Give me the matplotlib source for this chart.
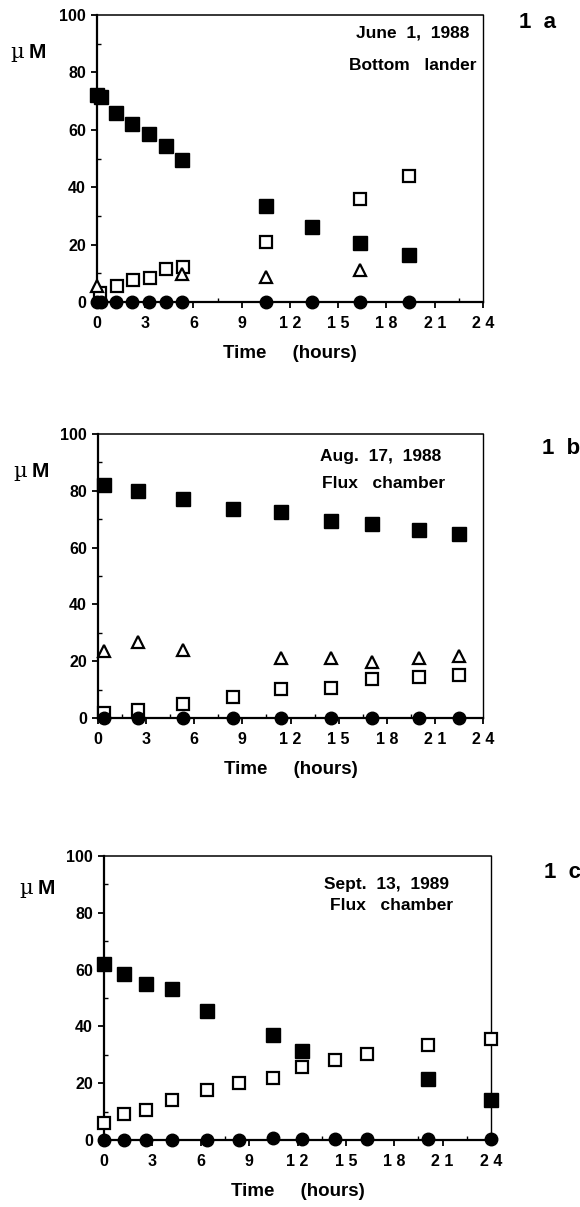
import matplotlib
matplotlib.use("Agg")
import matplotlib.pyplot as plt
from matplotlib.ticker import MultipleLocator

plt.rcParams['font.family'] = ['Liberation Sans', 'DejaVu Sans']
plt.rcParams['font.weight'] = 'bold'

W, H = 580, 1207

# ---- data (time in hours, concentration in uM) ----
# 1a  June 1, 1988, bottom lander
a_sq_t = [0, 0.25, 1.2, 2.2, 3.25, 4.3, 5.3, 10.5, 13.35, 16.35, 19.4]
a_sq = [72, 71.5, 66, 62, 58.5, 54.5, 49.5, 33.5, 26, 20.5, 16.5]
a_open_t = [0.2, 1.25, 2.25, 3.3, 4.3, 5.35, 10.5, 16.35, 19.4]
a_open = [3, 5.5, 7.8, 8.3, 11.5, 12.3, 21, 36, 44]
a_tri_t = [0, 5.3, 10.5, 16.35]
a_tri = [5.5, 9.8, 8.8, 11]
a_circ_t = [0, 0.25, 1.2, 2.2, 3.25, 4.3, 5.3, 10.5, 13.35, 16.35, 19.4]
a_circ = [0, 0, 0, 0, 0, 0, 0, 0, 0, 0, 0]

# 1b  Aug. 17, 1988, flux chamber
b_t = [0.4, 2.5, 5.3, 8.4, 11.4, 14.5, 17.1, 20.0, 22.5]
b_sq = [82, 80, 77, 73.5, 72.5, 69.5, 68.3, 66.3, 64.8]
b_open = [1.8, 2.7, 5.1, 7.4, 10.2, 10.5, 13.6, 14.5, 15.2]
b_tri_t = [0.4, 2.5, 5.3, 11.4, 14.5, 17.1, 20.0, 22.5]
b_tri = [23.5, 26.7, 24, 21.2, 21.2, 19.8, 21.2, 22]
b_circ = [0, 0, 0, 0, 0, 0, 0, 0, 0]

# 1c  Sept. 13, 1989, flux chamber
c_sq_t = [0, 1.26, 2.6, 4.24, 6.4, 10.5, 12.3, 20.1, 24]
c_sq = [62, 58.3, 54.8, 53, 45.5, 36.8, 31.5, 21.5, 14]
c_open_t = [0, 1.26, 2.6, 4.24, 6.4, 8.4, 10.5, 12.3, 14.35, 16.3, 20.1, 24]
c_open = [6, 9, 10.7, 14.2, 17.6, 20, 21.7, 25.8, 28, 30.3, 33.5, 35.4]
c_circ = [0, 0, 0, 0, 0, 0, 0.6, 0.5, 0.5, 0.5, 0.5, 0.4]

xticks = [0, 3, 6, 9, 12, 15, 18, 21, 24]
xticklabels = ['0', '3', '6', '9', '1 2', '1 5', '1 8', '2 1', '2 4']
yticks = [0, 20, 40, 60, 80, 100]


def fx(px):
    return px / W


def fy(py):
    return 1 - py / H


fig = plt.figure(figsize=(W / 100, H / 100), dpi=100)


def panel(left, top, right, bottom):
    ax = fig.add_axes([fx(left), fy(bottom), (right - left) / W, (bottom - top) / H])
    ax.set_xlim(0, 24)
    ax.set_ylim(0, 100)
    ax.set_xticks(xticks)
    ax.set_xticklabels(xticklabels)
    ax.set_yticks(yticks)
    ax.xaxis.set_minor_locator(MultipleLocator(1.5))
    ax.yaxis.set_minor_locator(MultipleLocator(10))
    ax.tick_params(which='major', direction='out', length=4, width=1.3,
                   labelsize=11.5, pad=4)
    ax.tick_params(axis='x', which='major', pad=6)
    ax.tick_params(which='minor', direction='in', length=3, width=1.0)
    for lab in ax.get_xticklabels() + ax.get_yticklabels():
        lab.set_fontweight('bold')
    ax.spines['left'].set_linewidth(1.6)
    ax.spines['bottom'].set_linewidth(1.6)
    ax.spines['top'].set_linewidth(1.1)
    ax.spines['right'].set_linewidth(1.0)
    ax.set_xlabel('Time     (hours)', fontsize=13.5, fontweight='bold', labelpad=10)
    return ax


def marks(ax, t, y, kind):
    if kind == 'sq':
        ax.plot(t, y, 's', ms=10, color='black', mec='black', clip_on=False, zorder=4)
    elif kind == 'open':
        ax.plot(t, y, 's', ms=8, mfc='white', mec='black', mew=1.6, clip_on=False, zorder=5)
    elif kind == 'tri':
        ax.plot(t, y, '^', ms=8, mfc='white', mec='black', mew=1.6, clip_on=False, zorder=5)
    else:
        ax.plot(t, y, 'o', ms=9, color='black', clip_on=False, zorder=6)


ax1 = panel(97, 15, 483, 302)
marks(ax1, a_sq_t, a_sq, 'sq')
marks(ax1, a_open_t, a_open, 'open')
marks(ax1, a_tri_t, a_tri, 'tri')
marks(ax1, a_circ_t, a_circ, 'circ')

ax2 = panel(98, 434, 483, 718)
marks(ax2, b_t, b_sq, 'sq')
marks(ax2, b_t, b_open, 'open')
marks(ax2, b_tri_t, b_tri, 'tri')
marks(ax2, b_t, b_circ, 'circ')

ax3 = panel(104, 856, 491, 1140)
marks(ax3, c_sq_t, c_sq, 'sq')
marks(ax3, c_open_t, c_open, 'open')
marks(ax3, c_open_t, c_circ, 'circ')

# y axis unit labels
for x, y in [(10, 53), (13, 472), (19, 888)]:
    fig.text(fx(x), fy(y), 'µ', fontsize=15, fontweight='normal',
             family='DejaVu Serif', va='center', ha='left')
    fig.text(fx(x + 19), fy(y), 'M', fontsize=15, fontweight='bold',
             va='center', ha='left')

# station notes
notes = [
    (413, 33, 'June  1,  1988'), (413, 65, 'Bottom   lander'),
    (381, 457, 'Aug.  17,  1988'), (384, 483, 'Flux   chamber'),
    (387, 885, 'Sept.  13,  1989'), (392, 905, 'Flux   chamber'),
]
for x, y, s in notes:
    fig.text(fx(x), fy(y), s, fontsize=12.5, fontweight='bold',
             ha='center', va='center')

# panel tags
for x, y, s in [(519, 22, '1  a'), (542, 448, '1  b'), (544, 872, '1  c')]:
    fig.text(fx(x), fy(y), s, fontsize=16, fontweight='bold', ha='left', va='center')

fig.savefig('out.png', dpi=100)
